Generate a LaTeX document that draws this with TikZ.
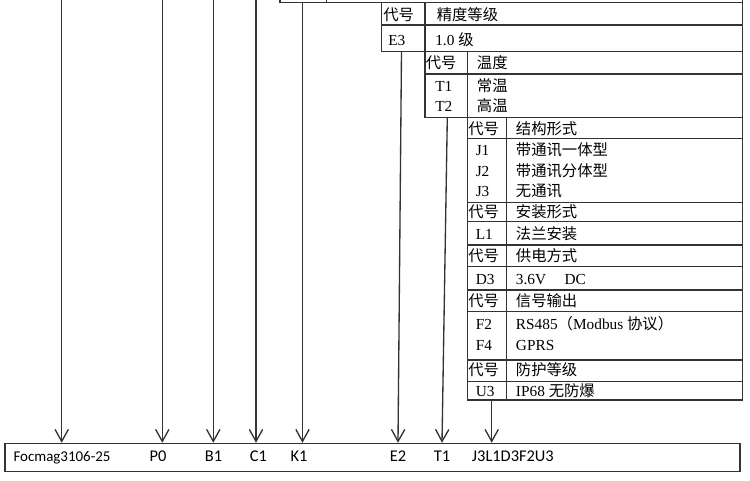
\documentclass[tikz,border=0pt]{standalone}
\usepackage{fontspec}
\setmainfont{Liberation Serif}
\newfontfamily\cjk{Noto Sans CJK SC}
\newfontfamily\calibri{Carlito}
\usetikzlibrary{arrows.meta}

\tikzset{
  tbl/.style={draw=black!80, line width=0.8pt},
  cell/.style={inner sep=0pt, anchor=west, yshift=-2.2pt, text height=0.8em, text depth=0.2em, font=\fontsize{11.5}{13}\selectfont},
  codelabel/.style={inner sep=0pt, anchor=base, font=\calibri\fontsize{12.3}{14}\selectfont},
  arr/.style={draw=black!80, line width=1pt, ->},
}

\begin{document}
\begin{tikzpicture}[x=0.75pt, y=-0.75pt, >={Straight Barb[length=9pt,width=10pt]}]
    \useasboundingbox (0,0) rectangle (750,481);

    % where the arrows start
    \coordinate (F) at (61.7,0) ;
    \coordinate (P) at (162.3,0) ;
    \coordinate (B) at (213.3,0) ;
    \coordinate (C) at (256,0) ;
    \coordinate (K) at (302.5,2.7) ;
    \coordinate (E) at (401.5,51.7) ;
    \coordinate (T) at (447.3,117.7) ;
    \coordinate (J) at (491.7,400) ;

    % table above, only its lower edge shows
    \draw[tbl] (280,0) -- (280,2.7) -- (742.3,2.7) ;
    \draw[tbl] (326.7,0) -- (326.7,2.7) ;
    \draw[tbl] (742.3,0) -- (742.3,400) ;

    % accuracy
    \draw[tbl] (381.7,2.7) rectangle (742.3,51.7) ;
    \draw[tbl] (381.7,25) -- (742.3,25) ;
    \draw[tbl] (425,2.7) -- (425,51.7) ;
    \node[cell] (E-h) at (383,14) {\cjk 代号} ;
    \node[cell] (E-ht) at (436.5,14) {\cjk 精度等级} ;
    \node[cell] (E3) at (388,38.4) {E3} ;
    \node[cell] (E3-t) at (435,38.4) {1.0 {\cjk 级}} ;

    % temperature
    \draw[tbl] (425,51.7) rectangle (742.3,117.7) ;
    \draw[tbl] (425,74) -- (742.3,74) ;
    \draw[tbl] (467.3,51.7) -- (467.3,117.7) ;
    \node[cell] (T-h) at (425.5,62) {\cjk 代号} ;
    \node[cell] (T-ht) at (476.7,62) {\cjk 温度} ;
    \node[cell] (T1) at (435,85) {T1} ;
    \node[cell] (T1-t) at (476.7,85) {\cjk 常温} ;
    \node[cell] (T2) at (435,105) {T2} ;
    \node[cell] (T2-t) at (476.7,105) {\cjk 高温} ;

    % structure, mounting, power, output, protection
    \draw[tbl] (467.3,117.7) rectangle (742.3,400) ;
    \draw[tbl] (506.7,117.7) -- (506.7,400) ;
    \draw[tbl] (467.3,138.7) -- (742.3,138.7) ;
    \draw[tbl] (467.3,202.7) -- (742.3,202.7) ;
    \draw[tbl] (467.3,221.7) -- (742.3,221.7) ;
    \draw[tbl] (467.3,245) -- (742.3,245) ;
    \draw[tbl] (467.3,266.7) -- (742.3,266.7) ;
    \draw[tbl] (467.3,290) -- (742.3,290) ;
    \draw[tbl] (467.3,311.7) -- (742.3,311.7) ;
    \draw[tbl] (467.3,360) -- (742.3,360) ;
    \draw[tbl] (467.3,381.7) -- (742.3,381.7) ;

    \node[cell] (J-h) at (468,127.5) {\cjk 代号} ;
    \node[cell] (J-ht) at (515.7,127.5) {\cjk 结构形式} ;
    \node[cell] (J1) at (475.5,149) {J1} ;
    \node[cell] (J1-t) at (515.7,149) {\cjk 带通讯一体型} ;
    \node[cell] (J2) at (475.5,169.5) {J2} ;
    \node[cell] (J2-t) at (515.7,169.5) {\cjk 带通讯分体型} ;
    \node[cell] (J3) at (475.5,190) {J3} ;
    \node[cell] (J3-t) at (515.7,190) {\cjk 无通讯} ;

    \node[cell] (L-h) at (468,211) {\cjk 代号} ;
    \node[cell] (L-ht) at (515.7,211) {\cjk 安装形式} ;
    \node[cell] (L1) at (475.5,233) {L1} ;
    \node[cell] (L1-t) at (515.7,233) {\cjk 法兰安装} ;

    \node[cell] (D-h) at (468,255) {\cjk 代号} ;
    \node[cell] (D-ht) at (515.7,255) {\cjk 供电方式} ;
    \node[cell] (D3) at (475.5,278) {D3} ;
    \node[cell] (D3-t) at (515.7,278) {3.6V\hspace{1.2em}DC} ;

    \node[cell] (F-h) at (468,300) {\cjk 代号} ;
    \node[cell] (F-ht) at (515.7,300) {\cjk 信号输出} ;
    \node[cell] (F2) at (475.5,323) {F2} ;
    \node[cell] (F2-t) at (515.7,323) {RS485{\cjk （}Modbus {\cjk 协议）}} ;
    \node[cell] (F4) at (475.5,344) {F4} ;
    \node[cell] (F4-t) at (515.7,344) {GPRS} ;

    \node[cell] (U-h) at (468,369) {\cjk 代号} ;
    \node[cell] (U-ht) at (515.7,369) {\cjk 防护等级} ;
    \node[cell] (U3) at (475.5,389.5) {U3} ;
    \node[cell] (U3-t) at (515.7,389.5) {IP68 {\cjk 无防爆}} ;

    % model code
    \node[tbl, minimum width=551.25pt, minimum height=21.3pt, inner sep=0pt] (code) at (372.5,457.5) {} ;
    \node[codelabel, font=\calibri\fontsize{11.2}{13}\selectfont] (c-F) at (62,461) {Focmag3106-25} ;
    \node[codelabel] (c-P) at (158,461) {P0} ;
    \node[codelabel] (c-B) at (213.5,461) {B1} ;
    \node[codelabel] (c-C) at (258.5,461) {C1} ;
    \node[codelabel] (c-K) at (299,461) {K1} ;
    \node[codelabel] (c-E) at (398,461) {E2} ;
    \node[codelabel] (c-T) at (442,461) {T1} ;
    \node[codelabel, anchor=base west] (c-J) at (471.7,461) {J3L1D3F2U3} ;

    \draw[arr] (F) -- (F |- code.north) ;
    \draw[arr] (P) -- (P |- code.north) ;
    \draw[arr] (B) -- (B |- code.north) ;
    \draw[arr] (C) -- (C |- code.north) ;
    \draw[arr] (K) -- (K |- code.north) ;
    \draw[arr] (E) -- (c-E.base |- code.north) ;
    \draw[arr] (T) -- (c-T.base |- code.north) ;
    \draw[arr] (J) -- (J |- code.north) ;

\end{tikzpicture}
\end{document}
